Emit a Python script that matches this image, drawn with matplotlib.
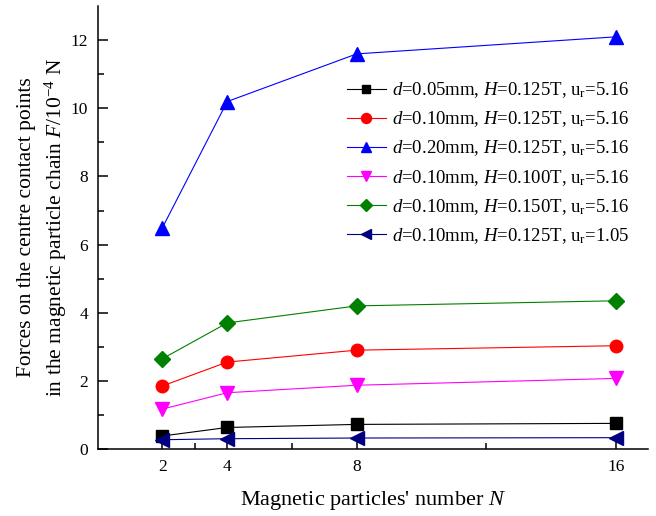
import matplotlib
matplotlib.use('Agg')
import matplotlib.pyplot as plt

plt.rcParams['font.family'] = ['Liberation Serif', 'DejaVu Serif']
plt.rcParams['mathtext.fontset'] = 'custom'
plt.rcParams['mathtext.rm'] = 'Liberation Serif'
plt.rcParams['mathtext.it'] = 'Liberation Serif:italic'

N = [2, 4, 8, 16]

f_d005 = [0.38, 0.63, 0.72, 0.75]
f_d010 = [1.85, 2.55, 2.90, 3.03]
f_d020 = [6.50, 10.20, 11.60, 12.10]
f_h100 = [1.17, 1.65, 1.87, 2.07]
f_h150 = [2.65, 3.70, 4.20, 4.35]
f_u105 = [0.27, 0.30, 0.32, 0.33]

labels = [
    r'$d$=0.05mm, $H$=0.125T, u$_\mathrm{r}$=5.16',
    r'$d$=0.10mm, $H$=0.125T, u$_\mathrm{r}$=5.16',
    r'$d$=0.20mm, $H$=0.125T, u$_\mathrm{r}$=5.16',
    r'$d$=0.10mm, $H$=0.100T, u$_\mathrm{r}$=5.16',
    r'$d$=0.10mm, $H$=0.150T, u$_\mathrm{r}$=5.16',
    r'$d$=0.10mm, $H$=0.125T, u$_\mathrm{r}$=1.05',
]

fig = plt.figure(figsize=(6.56, 5.16), dpi=100)
ax = fig.add_axes([0.149, 0.130, 0.839, 0.858])

ax.plot(N, f_d005, '-s', color='black', lw=0.8, ms=8, label=labels[0])
ax.plot(N, f_d010, '-o', color='red', lw=0.8, ms=9, label=labels[1])
ax.plot(N, f_d020, '-^', color='blue', lw=0.8, ms=9.5, label=labels[2])
ax.plot(N, f_h100, '-v', color='magenta', lw=0.8, ms=9.5, label=labels[3])
ax.plot(N, f_h150, '-D', color='green', lw=0.8, ms=8, label=labels[4])
ax.plot(N, f_u105, '-<', color='navy', lw=0.8, ms=9.5, label=labels[5])

ax.set_xlim(0, 17)
ax.set_ylim(0, 13)
ax.set_xticks(N)
ax.set_xticks([3, 6, 12], minor=True)
ax.set_yticks(range(0, 13, 2))
ax.set_yticks(range(1, 13, 2), minor=True)

ax.spines['top'].set_visible(False)
ax.spines['right'].set_visible(False)
for s in ['left', 'bottom']:
    ax.spines[s].set_linewidth(1.1)

ax.tick_params(which='both', direction='in', labelsize=12.5, width=1.1, pad=7)
ax.tick_params(which='major', length=7)
ax.tick_params(which='minor', length=4)

ax.set_xlabel(r"Magnetic particles' number $N$", fontsize=16, labelpad=10)
ax.set_ylabel('Forces on the centre contact points\n'
              r'in the magnetic particle chain $F$/10$^{-4}$ N',
              fontsize=15.5, labelpad=1, linespacing=1.35)

ax.legend(loc='upper right', bbox_to_anchor=(0.996, 0.871), frameon=False,
          fontsize=13.5, handlelength=2.1, handletextpad=0.3, labelspacing=0.5,
          markerscale=0.8)

fig.savefig('out.png', dpi=100)
